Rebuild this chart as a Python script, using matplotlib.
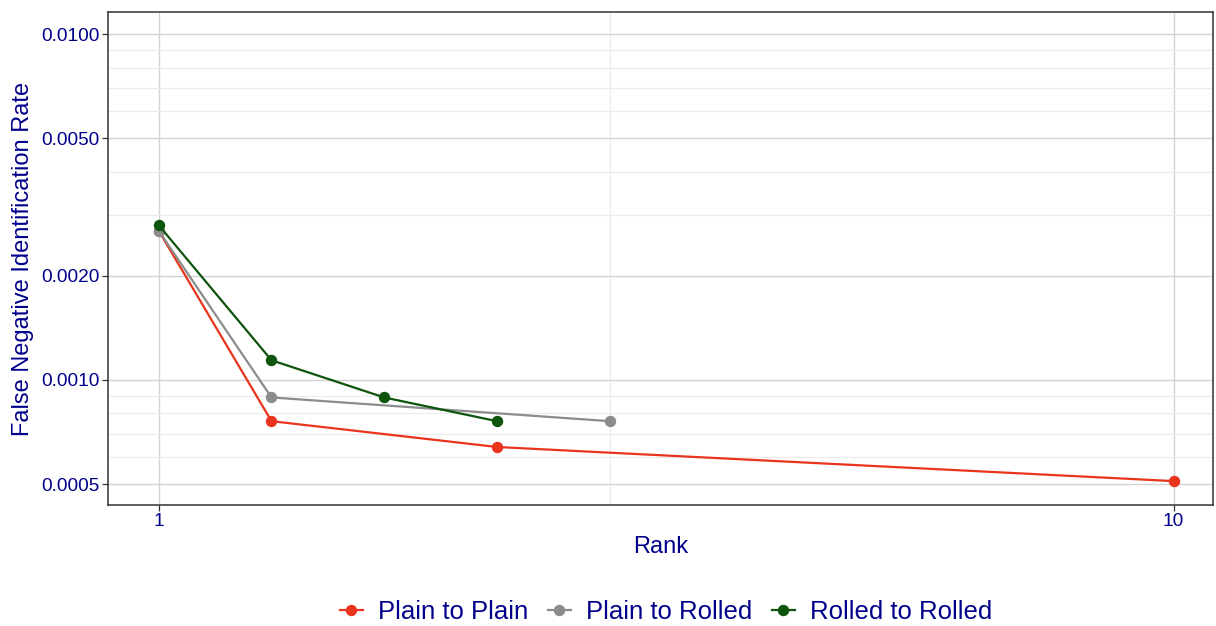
import matplotlib
matplotlib.use('Agg')
import matplotlib.pyplot as plt
from matplotlib.ticker import FixedLocator, FuncFormatter, NullFormatter

plt.rcParams['font.family'] = ['Liberation Sans', 'DejaVu Sans']

# rank vs false negative identification rate
rank_pp = [1, 2, 4, 10]
fnir_pp = [0.0027, 0.00076, 0.00064, 0.00051]
rank_pr = [1, 2, 5]
fnir_pr = [0.0027, 0.00089, 0.00076]
rank_rr = [1, 2, 3, 4]
fnir_rr = [0.0028, 0.00114, 0.00089, 0.00076]

y_major = [0.0005, 0.001, 0.002, 0.005, 0.01]
y_minor = [0.0006, 0.0007, 0.0008, 0.0009, 0.003, 0.004,
           0.006, 0.007, 0.008, 0.009]
x_major = [1, 10]
x_minor = [5]

txt = '#00008B'
frame = '#333333'

fig = plt.figure(figsize=(12.16, 6.26), dpi=100)
ax = fig.add_axes([108/1216, 1 - 505/626, (1213-108)/1216, (505-12)/626])

ax.plot(rank_pp, fnir_pp, color='#E8341C', lw=1.6, marker='o', ms=7.2, label='Plain to Plain', zorder=3)
ax.plot(rank_pr, fnir_pr, color='#8C8C8C', lw=1.6, marker='o', ms=7.2, label='Plain to Rolled', zorder=3)
ax.plot(rank_rr, fnir_rr, color='#0D540D', lw=1.6, marker='o', ms=7.2, label='Rolled to Rolled', zorder=4)

ax.set_yscale('log')
ax.set_xlim(0.55, 10.35)
ax.set_ylim(0.000435, 0.01158)

ax.xaxis.set_major_locator(FixedLocator(x_major))
ax.xaxis.set_minor_locator(FixedLocator(x_minor))
ax.yaxis.set_major_locator(FixedLocator(y_major))
ax.yaxis.set_minor_locator(FixedLocator(y_minor))
ax.xaxis.set_major_formatter(FuncFormatter(lambda v, p: '%d' % v))
ax.yaxis.set_major_formatter(FuncFormatter(lambda v, p: '%.4f' % v))
ax.xaxis.set_minor_formatter(NullFormatter())
ax.yaxis.set_minor_formatter(NullFormatter())

ax.grid(which='major', color='#D3D3D3', lw=1.0, zorder=0)
ax.grid(which='minor', color='#EBEBEB', lw=0.8, zorder=0)
ax.set_axisbelow(True)

ax.tick_params(which='major', direction='out', length=4, width=0.9, color=frame,
               labelsize=13.7, labelcolor=txt, pad=2)
ax.tick_params(which='minor', length=0)
for s in ax.spines.values():
    s.set_color(frame)
    s.set_linewidth(1.1)

ax.set_xlabel('Rank', fontsize=17, color=txt, labelpad=4)
ax.set_ylabel('False Negative Identification Rate', fontsize=17, color=txt, labelpad=5)

leg = fig.legend(loc='center', bbox_to_anchor=(666/1216, 1 - 612/626), ncol=3,
                 frameon=False, fontsize=18.5, handlelength=0.9, handletextpad=0.6,
                 columnspacing=0.75, labelcolor=txt)

fig.savefig('out.png', dpi=100)
